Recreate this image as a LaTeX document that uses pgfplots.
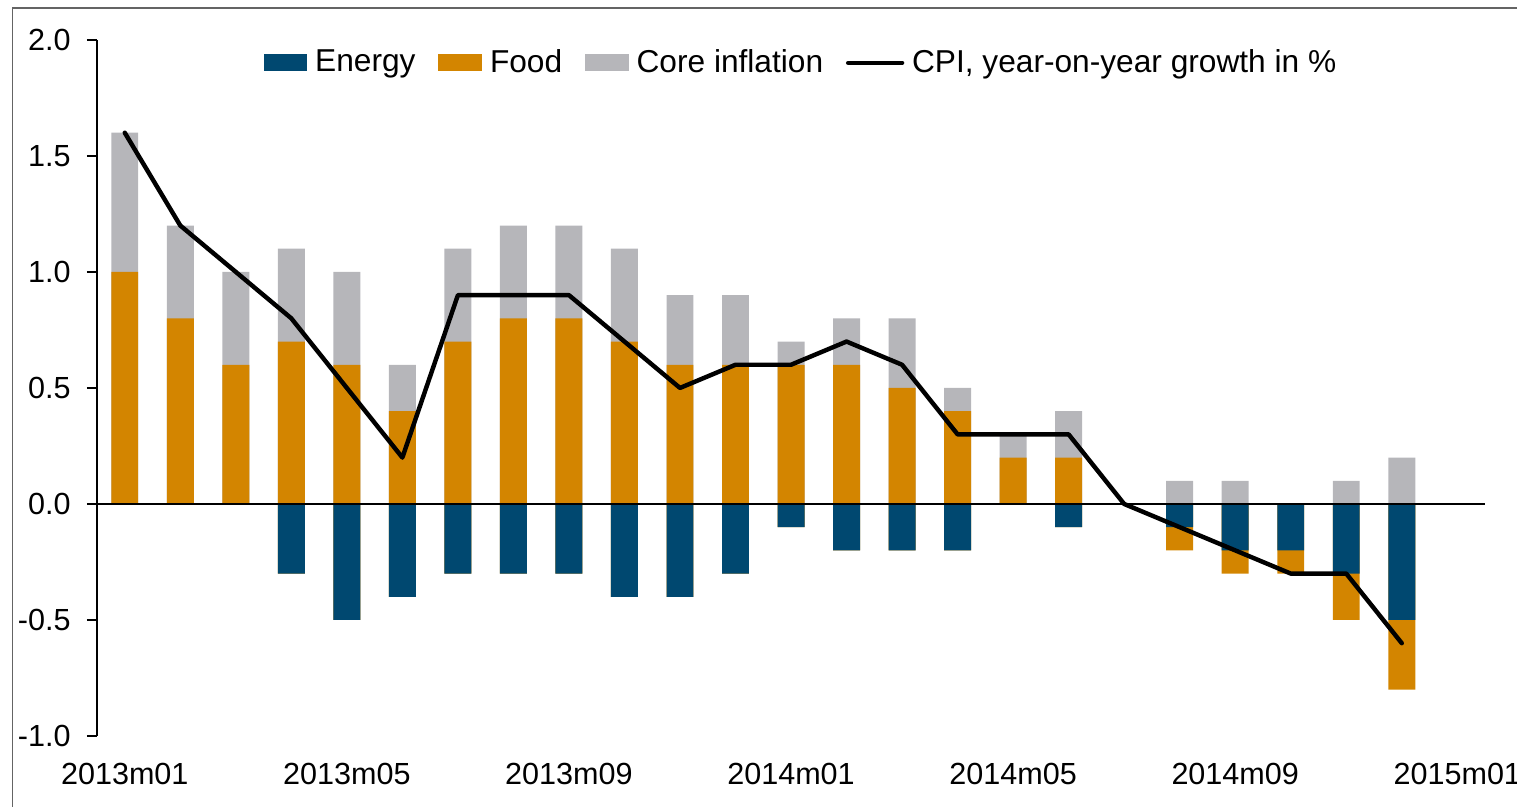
\documentclass[border=0pt]{standalone}
\usepackage{fontspec}
\setmainfont{Liberation Sans}
\usepackage{pgfplots}
\pgfplotsset{compat=1.18}
\usepackage{pgfplotstable}
\definecolor{energy}{RGB}{0,72,112}
\definecolor{food}{RGB}{211,133,0}
\definecolor{core}{RGB}{182,182,186}
\definecolor{frame}{RGB}{100,100,100}
\pgfplotsset{
  barlegend/.style={legend image code/.code={\fill[##1] (0pt,-3.1pt) rectangle (15.8pt,3.1pt);}},
  linelegend/.style={legend image code/.code={\draw[##1] (0pt,0pt) -- (19.4pt,0pt);}},
}
% m: month index; postop: top of positive stack (food+core); foodpos: food if positive;
% energy: energy contribution; negbot: bottom of negative stack (energy+food if negative); cpi
\pgfplotstableread{
m postop foodpos energy negbot cpi
0  1.6 1.0  0.0  0.0  1.6
1  1.2 0.8  0.0  0.0  1.2
2  1.0 0.6  0.0  0.0  1.0
3  1.1 0.7 -0.3 -0.3  0.8
4  1.0 0.6 -0.5 -0.5  0.5
5  0.6 0.4 -0.4 -0.4  0.2
6  1.1 0.7 -0.3 -0.3  0.9
7  1.2 0.8 -0.3 -0.3  0.9
8  1.2 0.8 -0.3 -0.3  0.9
9  1.1 0.7 -0.4 -0.4  0.7
10 0.9 0.6 -0.4 -0.4  0.5
11 0.9 0.6 -0.3 -0.3  0.6
12 0.7 0.6 -0.1 -0.1  0.6
13 0.8 0.6 -0.2 -0.2  0.7
14 0.8 0.5 -0.2 -0.2  0.6
15 0.5 0.4 -0.2 -0.2  0.3
16 0.3 0.2  0.0  0.0  0.3
17 0.4 0.2 -0.1 -0.1  0.3
18 0.0 0.0  0.0  0.0  0.0
19 0.1 0.0 -0.1 -0.2 -0.1
20 0.1 0.0 -0.2 -0.3 -0.2
21 0.0 0.0 -0.2 -0.3 -0.3
22 0.1 0.0 -0.3 -0.5 -0.3
23 0.2 0.0 -0.5 -0.8 -0.6
}\data
\begin{document}
\begin{tikzpicture}
\begin{axis}[
  at={(0,0)}, anchor=south west,
  scale only axis, width=499.7pt, height=250.6pt,
  xmin=-0.5, xmax=24.5, ymin=-1, ymax=2,
  axis x line*=bottom, axis y line*=left,
  x axis line style={draw=none},
  y axis line style={black, line width=0.5pt},
  xtick={0,4,...,24},
  xticklabels={2013m01,2013m05,2013m09,2014m01,2014m05,2014m09,2015m01},
  xtick style={draw=none},
  ytick={-1,-0.5,0,0.5,1,1.5,2},
  yticklabels={-1.0,-0.5,0.0,0.5,1.0,1.5,2.0},
  tick align=outside, major tick length=3.6pt,
  ytick style={black, line width=0.5pt},
  yticklabel style={font=\fontsize{11}{13}\selectfont, xshift=-2.4pt},
  xticklabel style={font=\fontsize{11}{13}\selectfont, yshift=-2.5pt},
  legend style={at={(0.5076,0.967)}, anchor=center, draw=none, fill=none,
    legend columns=-1, font=\fontsize{11.4}{13}\selectfont,
    nodes={inner sep=1.2pt},
    /tikz/every odd column/.append style={column sep=1.6pt},
    /tikz/every even column/.append style={column sep=7pt}},
  legend entries={Energy,Food,Core inflation,{CPI, year-on-year growth in \%}},
]
\addlegendimage{barlegend, fill=energy, draw=none}
\addlegendimage{barlegend, fill=food, draw=none}
\addlegendimage{barlegend, fill=core, draw=none}
\addlegendimage{linelegend, black, line width=1.6pt, line cap=round}
\addplot[forget plot, ybar, bar width=9.7pt, bar shift=0pt, fill=core, draw=none] table[x=m, y=postop]{\data};
\addplot[forget plot, ybar, bar width=9.7pt, bar shift=0pt, fill=food, draw=none] table[x=m, y=foodpos]{\data};
\addplot[forget plot, ybar, bar width=9.7pt, bar shift=0pt, fill=food, draw=none] table[x=m, y=negbot]{\data};
\addplot[forget plot, ybar, bar width=9.7pt, bar shift=0pt, fill=energy, draw=none] table[x=m, y=energy]{\data};
\draw[black, line width=0.45pt] (axis cs:-0.5,0) -- (axis cs:24.5,0);
\addplot[forget plot, sharp plot, black, line width=1.6pt, line join=round, line cap=round, mark=none] table[x=m, y=cpi]{\data};
\end{axis}
\draw[frame, line width=0.5pt] (-30.4pt,-30pt) -- (-30.4pt,262.1pt) -- (520pt,262.1pt);
\pgfresetboundingbox
\useasboundingbox (-34.92pt,-25.2pt) rectangle (511.2pt,264.96pt);
\end{tikzpicture}
\end{document}
